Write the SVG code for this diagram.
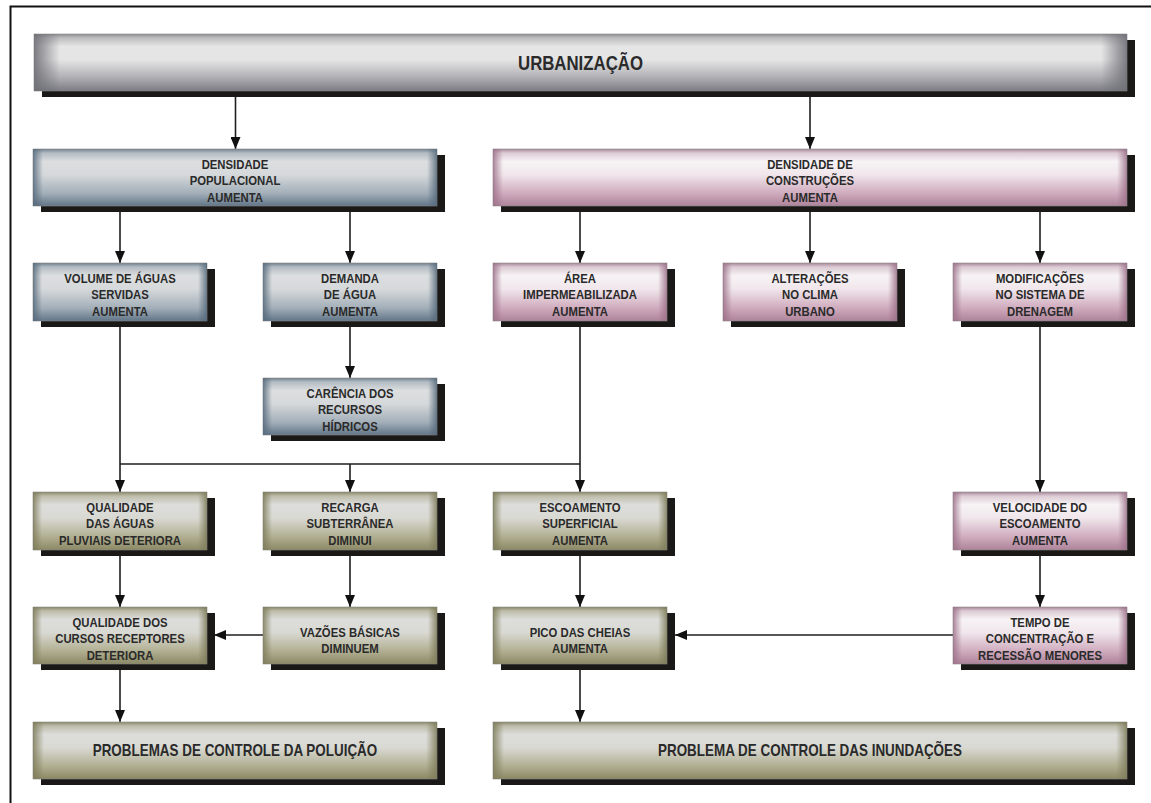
<svg xmlns="http://www.w3.org/2000/svg" width="1151" height="803" viewBox="0 0 1151 803">
<defs>
<style>
.sh{fill:#1b1918}
.bx{stroke:#8a8a8a;stroke-width:0.6}
.t{font-family:"Liberation Sans",Arial,sans-serif;font-weight:bold;font-size:13.5px;fill:#2a2a2a;text-anchor:middle}
.tb{font-size:16px}
.tt{font-size:20px}
.c{fill:none;stroke:#1e1e1e;stroke-width:1.6}
.ca{fill:none;stroke:#1e1e1e;stroke-width:1.6;marker-end:url(#ah)}
</style>
<marker id="ah" viewBox="0 0 12 10" refX="12" refY="5" markerWidth="12" markerHeight="10" markerUnits="userSpaceOnUse" orient="auto">
<path d="M0,0 L12,5 L0,10 Z" fill="#111"/>
</marker>
<linearGradient id="gGray" x1="0" y1="0" x2="0" y2="1">
<stop offset="0" stop-color="#8e8e93"/><stop offset="0.07" stop-color="#bdbdc0"/><stop offset="0.22" stop-color="#e6e6e6"/><stop offset="0.45" stop-color="#e5e5e5"/><stop offset="0.75" stop-color="#b2b2b6"/><stop offset="1" stop-color="#7b7b83"/>
</linearGradient>
<linearGradient id="gBlue" x1="0" y1="0" x2="0" y2="1">
<stop offset="0" stop-color="#71818f"/><stop offset="0.07" stop-color="#b3bcc3"/><stop offset="0.22" stop-color="#dcdedf"/><stop offset="0.45" stop-color="#d6d9db"/><stop offset="0.78" stop-color="#a2aeb8"/><stop offset="1" stop-color="#617587"/>
</linearGradient>
<linearGradient id="gPink" x1="0" y1="0" x2="0" y2="1">
<stop offset="0" stop-color="#a8889a"/><stop offset="0.07" stop-color="#dccbd4"/><stop offset="0.22" stop-color="#f7f3f5"/><stop offset="0.45" stop-color="#f0e6eb"/><stop offset="0.78" stop-color="#cfaabd"/><stop offset="1" stop-color="#ad8399"/>
</linearGradient>
<linearGradient id="gOlive" x1="0" y1="0" x2="0" y2="1">
<stop offset="0" stop-color="#8b896b"/><stop offset="0.07" stop-color="#bebdab"/><stop offset="0.22" stop-color="#dddddb"/><stop offset="0.45" stop-color="#d9d9d3"/><stop offset="0.78" stop-color="#b0ae90"/><stop offset="1" stop-color="#8a8864"/>
</linearGradient>
<linearGradient id="eGrayL" x1="0" y1="0" x2="1" y2="0"><stop offset="0" stop-color="#6f6f76" stop-opacity="0.9"/><stop offset="1" stop-color="#6f6f76" stop-opacity="0"/></linearGradient>
<linearGradient id="eGrayR" x1="1" y1="0" x2="0" y2="0"><stop offset="0" stop-color="#6f6f76" stop-opacity="0.9"/><stop offset="1" stop-color="#6f6f76" stop-opacity="0"/></linearGradient>
<linearGradient id="eBlueL" x1="0" y1="0" x2="1" y2="0"><stop offset="0" stop-color="#566a7c" stop-opacity="0.85"/><stop offset="1" stop-color="#566a7c" stop-opacity="0"/></linearGradient>
<linearGradient id="eBlueR" x1="1" y1="0" x2="0" y2="0"><stop offset="0" stop-color="#566a7c" stop-opacity="0.85"/><stop offset="1" stop-color="#566a7c" stop-opacity="0"/></linearGradient>
<linearGradient id="ePinkL" x1="0" y1="0" x2="1" y2="0"><stop offset="0" stop-color="#9c7189" stop-opacity="0.85"/><stop offset="1" stop-color="#9c7189" stop-opacity="0"/></linearGradient>
<linearGradient id="ePinkR" x1="1" y1="0" x2="0" y2="0"><stop offset="0" stop-color="#9c7189" stop-opacity="0.85"/><stop offset="1" stop-color="#9c7189" stop-opacity="0"/></linearGradient>
<linearGradient id="eOliveL" x1="0" y1="0" x2="1" y2="0"><stop offset="0" stop-color="#7e7c5a" stop-opacity="0.85"/><stop offset="1" stop-color="#7e7c5a" stop-opacity="0"/></linearGradient>
<linearGradient id="eOliveR" x1="1" y1="0" x2="0" y2="0"><stop offset="0" stop-color="#7e7c5a" stop-opacity="0.85"/><stop offset="1" stop-color="#7e7c5a" stop-opacity="0"/></linearGradient>
</defs>
<rect x="0" y="0" width="1151" height="803" fill="#ffffff"/>
<rect x="10.5" y="6.5" width="1160" height="810" fill="none" stroke="#111" stroke-width="2"/>

<g id="connectors">
<path class="ca" d="M235.5 91 V149"/>
<path class="ca" d="M810 91 V149"/>
<path class="ca" d="M120 206 V263"/>
<path class="ca" d="M350 206 V263"/>
<path class="ca" d="M580 206 V263"/>
<path class="ca" d="M810 206 V263"/>
<path class="ca" d="M1040 206 V263"/>
<path class="ca" d="M350 321 V378"/>
<path class="ca" d="M120 321 V492"/>
<path class="c" d="M120 464 H580"/>
<path class="ca" d="M580 321 V492"/>
<path class="ca" d="M350 464 V492"/>
<path class="ca" d="M1040 321 V492"/>
<path class="ca" d="M120 550 V607"/>
<path class="ca" d="M350 550 V607"/>
<path class="ca" d="M580 550 V607"/>
<path class="ca" d="M1040 550 V607"/>
<path class="ca" d="M263 635 H214"/>
<path class="ca" d="M953 635 H675"/>
<path class="ca" d="M120 664 V722"/>
<path class="ca" d="M580 664 V722"/>
</g>

<g id="n-urbanizacao">
<rect class="sh" x="42" y="40" width="1093" height="57"/>
<rect class="bx" x="34" y="34" width="1093" height="57" fill="url(#gGray)"/>
<rect x="34" y="34" width="26" height="57" fill="url(#eGrayL)"/>
<rect x="1101" y="34" width="26" height="57" fill="url(#eGrayR)"/>
<text class="t tt" transform="matrix(0.84 0 0 1 92.88 0)" x="580.5" y="70">URBANIZAÇÃO</text>
</g>

<g id="n-dens-pop">
<rect class="sh" x="41" y="155" width="404" height="57"/>
<rect class="bx" x="33" y="149" width="404" height="57" fill="url(#gBlue)"/>
<rect x="33" y="149" width="10" height="57" fill="url(#eBlueL)"/>
<rect x="427" y="149" width="10" height="57" fill="url(#eBlueR)"/>
<text class="t" transform="matrix(0.84 0 0 1 37.6 0)" x="235" y="169">DENSIDADE<tspan x="235" dy="16.5">POPULACIONAL</tspan><tspan x="235" dy="16.5">AUMENTA</tspan></text>
</g>

<g id="n-dens-constr">
<rect class="sh" x="501" y="155" width="634" height="57"/>
<rect class="bx" x="493" y="149" width="634" height="57" fill="url(#gPink)"/>
<rect x="493" y="149" width="10" height="57" fill="url(#ePinkL)"/>
<rect x="1117" y="149" width="10" height="57" fill="url(#ePinkR)"/>
<text class="t" transform="matrix(0.84 0 0 1 129.6 0)" x="810" y="169">DENSIDADE DE<tspan x="810" dy="16.5">CONSTRUÇÕES</tspan><tspan x="810" dy="16.5">AUMENTA</tspan></text>
</g>

<g id="n-volume">
<rect class="sh" x="41" y="269" width="174" height="58"/>
<rect class="bx" x="33" y="263" width="174" height="58" fill="url(#gBlue)"/>
<rect x="33" y="263" width="9" height="58" fill="url(#eBlueL)"/>
<rect x="198" y="263" width="9" height="58" fill="url(#eBlueR)"/>
<text class="t" transform="matrix(0.84 0 0 1 19.2 0)" x="120" y="283">VOLUME DE ÁGUAS<tspan x="120" dy="16.5">SERVIDAS</tspan><tspan x="120" dy="16.5">AUMENTA</tspan></text>
</g>

<g id="n-demanda">
<rect class="sh" x="271" y="269" width="174" height="58"/>
<rect class="bx" x="263" y="263" width="174" height="58" fill="url(#gBlue)"/>
<rect x="263" y="263" width="9" height="58" fill="url(#eBlueL)"/>
<rect x="428" y="263" width="9" height="58" fill="url(#eBlueR)"/>
<text class="t" transform="matrix(0.84 0 0 1 56 0)" x="350" y="283">DEMANDA<tspan x="350" dy="16.5">DE ÁGUA</tspan><tspan x="350" dy="16.5">AUMENTA</tspan></text>
</g>

<g id="n-area">
<rect class="sh" x="501" y="269" width="174" height="58"/>
<rect class="bx" x="493" y="263" width="174" height="58" fill="url(#gPink)"/>
<rect x="493" y="263" width="9" height="58" fill="url(#ePinkL)"/>
<rect x="658" y="263" width="9" height="58" fill="url(#ePinkR)"/>
<text class="t" transform="matrix(0.84 0 0 1 92.8 0)" x="580" y="283">ÁREA<tspan x="580" dy="16.5">IMPERMEABILIZADA</tspan><tspan x="580" dy="16.5">AUMENTA</tspan></text>
</g>

<g id="n-clima">
<rect class="sh" x="731" y="269" width="174" height="58"/>
<rect class="bx" x="723" y="263" width="174" height="58" fill="url(#gPink)"/>
<rect x="723" y="263" width="9" height="58" fill="url(#ePinkL)"/>
<rect x="888" y="263" width="9" height="58" fill="url(#ePinkR)"/>
<text class="t" transform="matrix(0.84 0 0 1 129.6 0)" x="810" y="283">ALTERAÇÕES<tspan x="810" dy="16.5">NO CLIMA</tspan><tspan x="810" dy="16.5">URBANO</tspan></text>
</g>

<g id="n-drenagem">
<rect class="sh" x="961" y="269" width="174" height="58"/>
<rect class="bx" x="953" y="263" width="174" height="58" fill="url(#gPink)"/>
<rect x="953" y="263" width="9" height="58" fill="url(#ePinkL)"/>
<rect x="1118" y="263" width="9" height="58" fill="url(#ePinkR)"/>
<text class="t" transform="matrix(0.84 0 0 1 166.4 0)" x="1040" y="283">MODIFICAÇÕES<tspan x="1040" dy="16.5">NO SISTEMA DE</tspan><tspan x="1040" dy="16.5">DRENAGEM</tspan></text>
</g>

<g id="n-carencia">
<rect class="sh" x="271" y="384" width="174" height="57"/>
<rect class="bx" x="263" y="378" width="174" height="57" fill="url(#gBlue)"/>
<rect x="263" y="378" width="9" height="57" fill="url(#eBlueL)"/>
<rect x="428" y="378" width="9" height="57" fill="url(#eBlueR)"/>
<text class="t" transform="matrix(0.84 0 0 1 56 0)" x="350" y="398">CARÊNCIA DOS<tspan x="350" dy="16.5">RECURSOS</tspan><tspan x="350" dy="16.5">HÍDRICOS</tspan></text>
</g>

<g id="n-qual-pluv">
<rect class="sh" x="41" y="498" width="174" height="58"/>
<rect class="bx" x="33" y="492" width="174" height="58" fill="url(#gOlive)"/>
<rect x="33" y="492" width="9" height="58" fill="url(#eOliveL)"/>
<rect x="198" y="492" width="9" height="58" fill="url(#eOliveR)"/>
<text class="t" transform="matrix(0.84 0 0 1 19.2 0)" x="120" y="512">QUALIDADE<tspan x="120" dy="16.5">DAS ÁGUAS</tspan><tspan x="120" dy="16.5">PLUVIAIS DETERIORA</tspan></text>
</g>

<g id="n-recarga">
<rect class="sh" x="271" y="498" width="174" height="58"/>
<rect class="bx" x="263" y="492" width="174" height="58" fill="url(#gOlive)"/>
<rect x="263" y="492" width="9" height="58" fill="url(#eOliveL)"/>
<rect x="428" y="492" width="9" height="58" fill="url(#eOliveR)"/>
<text class="t" transform="matrix(0.84 0 0 1 56 0)" x="350" y="512">RECARGA<tspan x="350" dy="16.5">SUBTERRÂNEA</tspan><tspan x="350" dy="16.5">DIMINUI</tspan></text>
</g>

<g id="n-escoamento">
<rect class="sh" x="501" y="498" width="174" height="58"/>
<rect class="bx" x="493" y="492" width="174" height="58" fill="url(#gOlive)"/>
<rect x="493" y="492" width="9" height="58" fill="url(#eOliveL)"/>
<rect x="658" y="492" width="9" height="58" fill="url(#eOliveR)"/>
<text class="t" transform="matrix(0.84 0 0 1 92.8 0)" x="580" y="512">ESCOAMENTO<tspan x="580" dy="16.5">SUPERFICIAL</tspan><tspan x="580" dy="16.5">AUMENTA</tspan></text>
</g>

<g id="n-velocidade">
<rect class="sh" x="961" y="498" width="174" height="58"/>
<rect class="bx" x="953" y="492" width="174" height="58" fill="url(#gPink)"/>
<rect x="953" y="492" width="9" height="58" fill="url(#ePinkL)"/>
<rect x="1118" y="492" width="9" height="58" fill="url(#ePinkR)"/>
<text class="t" transform="matrix(0.84 0 0 1 166.4 0)" x="1040" y="512">VELOCIDADE DO<tspan x="1040" dy="16.5">ESCOAMENTO</tspan><tspan x="1040" dy="16.5">AUMENTA</tspan></text>
</g>

<g id="n-qual-cursos">
<rect class="sh" x="41" y="613" width="174" height="57"/>
<rect class="bx" x="33" y="607" width="174" height="57" fill="url(#gOlive)"/>
<rect x="33" y="607" width="9" height="57" fill="url(#eOliveL)"/>
<rect x="198" y="607" width="9" height="57" fill="url(#eOliveR)"/>
<text class="t" transform="matrix(0.84 0 0 1 19.2 0)" x="120" y="627">QUALIDADE DOS<tspan x="120" dy="16.5">CURSOS RECEPTORES</tspan><tspan x="120" dy="16.5">DETERIORA</tspan></text>
</g>

<g id="n-vazoes">
<rect class="sh" x="271" y="613" width="174" height="57"/>
<rect class="bx" x="263" y="607" width="174" height="57" fill="url(#gOlive)"/>
<rect x="263" y="607" width="9" height="57" fill="url(#eOliveL)"/>
<rect x="428" y="607" width="9" height="57" fill="url(#eOliveR)"/>
<text class="t" transform="matrix(0.84 0 0 1 56 0)" x="350" y="637">VAZÕES BÁSICAS<tspan x="350" dy="16">DIMINUEM</tspan></text>
</g>

<g id="n-pico">
<rect class="sh" x="501" y="613" width="174" height="57"/>
<rect class="bx" x="493" y="607" width="174" height="57" fill="url(#gOlive)"/>
<rect x="493" y="607" width="9" height="57" fill="url(#eOliveL)"/>
<rect x="658" y="607" width="9" height="57" fill="url(#eOliveR)"/>
<text class="t" transform="matrix(0.84 0 0 1 92.8 0)" x="580" y="637">PICO DAS CHEIAS<tspan x="580" dy="16">AUMENTA</tspan></text>
</g>

<g id="n-tempo">
<rect class="sh" x="961" y="613" width="174" height="57"/>
<rect class="bx" x="953" y="607" width="174" height="57" fill="url(#gPink)"/>
<rect x="953" y="607" width="9" height="57" fill="url(#ePinkL)"/>
<rect x="1118" y="607" width="9" height="57" fill="url(#ePinkR)"/>
<text class="t" transform="matrix(0.84 0 0 1 166.4 0)" x="1040" y="627">TEMPO DE<tspan x="1040" dy="16.5">CONCENTRAÇÃO E</tspan><tspan x="1040" dy="16.5">RECESSÃO MENORES</tspan></text>
</g>

<g id="n-poluicao">
<rect class="sh" x="41" y="728" width="404" height="57"/>
<rect class="bx" x="33" y="722" width="404" height="57" fill="url(#gOlive)"/>
<rect x="33" y="722" width="11" height="57" fill="url(#eOliveL)"/>
<rect x="426" y="722" width="11" height="57" fill="url(#eOliveR)"/>
<text class="t tb" transform="matrix(0.84 0 0 1 37.6 0)" x="235" y="756">PROBLEMAS DE CONTROLE DA POLUIÇÃO</text>
</g>

<g id="n-inundacoes">
<rect class="sh" x="501" y="728" width="634" height="57"/>
<rect class="bx" x="493" y="722" width="634" height="57" fill="url(#gOlive)"/>
<rect x="493" y="722" width="11" height="57" fill="url(#eOliveL)"/>
<rect x="1116" y="722" width="11" height="57" fill="url(#eOliveR)"/>
<text class="t tb" transform="matrix(0.84 0 0 1 129.6 0)" x="810" y="756">PROBLEMA DE CONTROLE DAS INUNDAÇÕES</text>
</g>
</svg>
